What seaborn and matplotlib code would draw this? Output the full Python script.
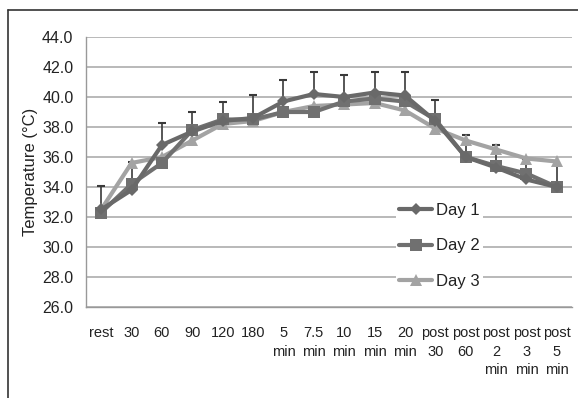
import numpy as np
import pandas as pd
import matplotlib
matplotlib.use("Agg")
import matplotlib.pyplot as plt
import seaborn as sns
from matplotlib.lines import Line2D

# Time points and mean temperatures (°C) for each day
time_labels = ["rest", "30", "60", "90", "120", "180", "5\nmin", "7.5\nmin",
               "10\nmin", "15\nmin", "20\nmin", "post\n30", "post\n60",
               "post\n2\nmin", "post\n3\nmin", "post\n5\nmin"]
day1 = [32.5, 33.8, 36.8, 37.7, 38.4, 38.6, 39.7, 40.2, 40.0, 40.3, 40.1, 38.4, 36.0, 35.3, 34.5, 34.0]
day2 = [32.3, 34.2, 35.6, 37.8, 38.5, 38.5, 39.0, 39.0, 39.7, 39.9, 39.7, 38.5, 36.0, 35.4, 34.9, 34.0]
day3 = [32.5, 35.6, 36.0, 37.1, 38.2, 38.4, 39.0, 39.4, 39.5, 39.6, 39.1, 37.9, 37.1, 36.5, 35.9, 35.7]
# Upper standard deviation for Day 1
day1_sd = [1.55, 1.9, 1.45, 1.3, 1.3, 1.5, 1.4, 1.45, 1.45, 1.4, 1.55, 1.4, 1.45, 1.5, 1.4, 1.5]

sns.set_style("white")
plt.rcParams["font.family"] = ["Liberation Sans", "DejaVu Sans"]

pos = np.arange(len(time_labels))
df = pd.DataFrame({
    "pos": np.tile(pos, 3),
    "temp": day1 + day2 + day3,
    "day": ["Day 1"] * len(pos) + ["Day 2"] * len(pos) + ["Day 3"] * len(pos),
})

fig = plt.figure(figsize=(5.78, 3.98), dpi=100)
# outer frame (top and left edges)
fig.add_artist(Line2D([0.014, 1.0], [0.975, 0.975], color="#333333", lw=1.2))
fig.add_artist(Line2D([0.014, 0.014], [0.0, 0.975], color="#333333", lw=1.2))

ax = fig.add_axes([86 / 578, 1 - 307 / 398, (572 - 86) / 578, (307 - 37) / 398])

colors = {"Day 1": "#696969", "Day 2": "#707070", "Day 3": "#a3a3a3"}
markers = {"Day 1": "D", "Day 2": "s", "Day 3": "^"}
sizes = {"Day 1": 6, "Day 2": 8.5, "Day 3": 9}

ax.errorbar(pos, day1, yerr=[np.zeros(len(pos)), day1_sd], fmt="none",
            ecolor="#3a3a3a", elinewidth=1.2, capsize=3, capthick=1.5, zorder=2)

for name in ["Day 3", "Day 2", "Day 1"]:
    sub = df[df["day"] == name]
    sns.lineplot(data=sub, x="pos", y="temp", ax=ax, color=colors[name],
                 marker=markers[name], markersize=sizes[name], linewidth=3,
                 markeredgewidth=0, label=name, zorder=3, legend=False)

ax.set_xlim(-0.5, len(pos) - 0.5)
ax.set_ylim(26, 44)
yt = np.arange(26, 44.1, 2)
ax.set_yticks(yt)
ax.set_yticklabels([f"{v:.1f}" for v in yt], fontsize=11.5, color="#222222")
ax.set_xticks(pos)
ax.set_xticklabels(time_labels, fontsize=10.5, color="#222222", linespacing=1.4, va="top")
ax.set_xticks(np.arange(-0.5, len(pos), 1), minor=True)
ax.tick_params(axis="x", which="major", length=0, pad=14)
ax.tick_params(axis="x", which="minor", length=5, width=1, color="#999999", direction="out")
ax.tick_params(axis="y", length=4, width=1, color="#999999", direction="out", pad=5)
ax.set_xlabel("")
ax.set_ylabel("Temperature (°C)", fontsize=12, color="#222222", labelpad=3)

ax.grid(axis="y", color="#b3b3b3", linewidth=1.3)
ax.set_axisbelow(True)
for s in ["top", "right"]:
    ax.spines[s].set_visible(False)
for s in ["left", "bottom"]:
    ax.spines[s].set_color("#999999")
    ax.spines[s].set_linewidth(1)

handles = [Line2D([0], [0], color=colors[n], marker=markers[n], markersize=sizes[n],
                  linewidth=3, markeredgewidth=0) for n in ["Day 1", "Day 2", "Day 3"]]
leg = ax.legend(handles, ["Day 1", "Day 2", "Day 3"], loc="upper left",
                bbox_to_anchor=(0.62, 0.43), frameon=True, fontsize=12,
                handlelength=2.0, handletextpad=0.2, labelspacing=1.25,
                borderpad=0.2, facecolor="white", edgecolor="none", framealpha=1)
for t in leg.get_texts():
    t.set_color("#222222")

fig.savefig("out.png", dpi=100)
